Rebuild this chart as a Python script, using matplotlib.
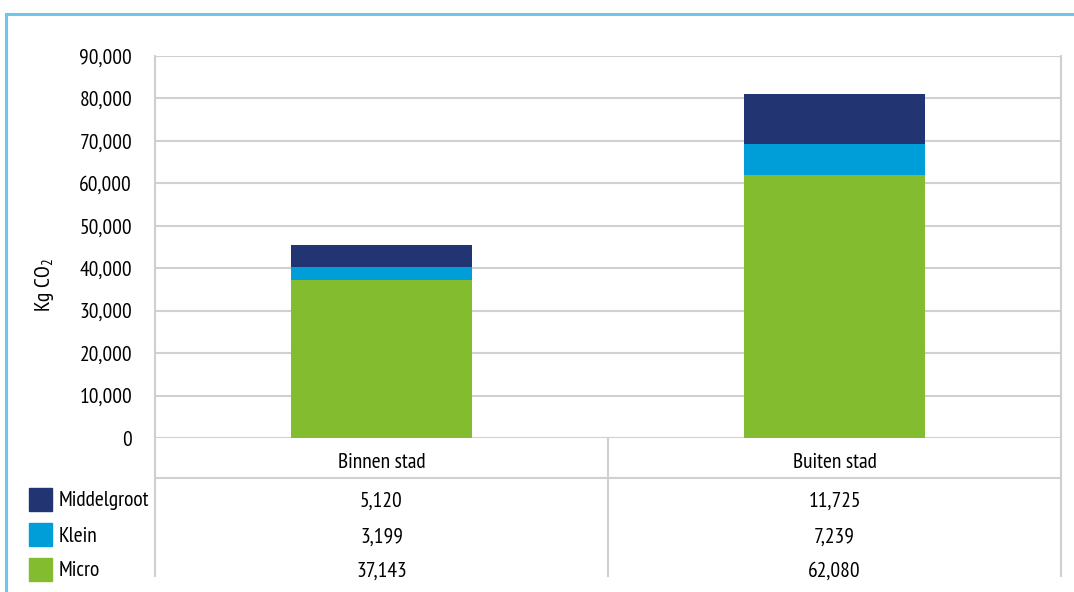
import matplotlib
matplotlib.use("Agg")
import matplotlib.pyplot as plt
from matplotlib.patches import Rectangle
from matplotlib.lines import Line2D

plt.rcParams['font.family'] = ['PT Sans Narrow', 'DejaVu Sans']
plt.rcParams['mathtext.fontset'] = 'custom'
plt.rcParams['mathtext.rm'] = 'PT Sans Narrow'
plt.rcParams['mathtext.it'] = 'PT Sans Narrow'

categories = ["Binnen stad", "Buiten stad"]
series_names = ["Middelgroot", "Klein", "Micro"]
micro = [37143, 62080]
klein = [3199, 7239]
middelgroot = [5120, 11725]
yticks = [0, 10000, 20000, 30000, 40000, 50000, 60000, 70000, 80000, 90000]

colors = {"Middelgroot": "#233473", "Klein": "#009ed8", "Micro": "#84bc2f"}
grid_c = "#d0d0d0"
fs = 15.5

W, H = 1074, 592
fig = plt.figure(figsize=(W / 100, H / 100), dpi=100)

# outer frame (top and left edges only)
fig.add_artist(Line2D([6 / W, 1.0], [1 - 14 / H, 1 - 14 / H], color="#6ec6ea", lw=2.2))
fig.add_artist(Line2D([6 / W, 6 / W], [0, 1 - 14 / H], color="#6ec6ea", lw=2.2))

left, right, top, bottom = 155, 1061, 56, 438
ax = fig.add_axes([left / W, 1 - bottom / H, (right - left) / W, (bottom - top) / H])

x = list(range(len(categories)))
width = 0.4
ax.bar(x, micro, width, color=colors["Micro"], zorder=3)
ax.bar(x, klein, width, bottom=micro, color=colors["Klein"], zorder=3)
base2 = [m + k for m, k in zip(micro, klein)]
ax.bar(x, middelgroot, width, bottom=base2, color=colors["Middelgroot"], zorder=3)

ax.set_xlim(-0.5, 1.5)
ax.set_ylim(0, 90000)
ax.set_yticks(yticks)
ax.set_yticklabels([f"{v:,}" for v in yticks], fontsize=fs)
ax.tick_params(axis="y", length=0, pad=16.5)
ax.set_xticks([])
for s in ["top", "bottom"]:
    ax.spines[s].set_visible(False)
for s in ["left", "right"]:
    ax.spines[s].set_color(grid_c)
    ax.spines[s].set_linewidth(1.5)
ax.yaxis.grid(True, color=grid_c, lw=1.5, zorder=0)
ax.set_axisbelow(True)

fig.text(45 / W, 1 - 285 / H, "Kg CO$_2$", rotation=90, ha="center", va="center",
         fontsize=fs)

# data table under the axes
ph = bottom - top
def ay(py):
    return (bottom - py) / ph

trans = ax.get_xaxis_transform()
tab_bottom = 576
for xv in [-0.5, 0.5, 1.5]:
    ax.add_line(Line2D([xv, xv], [0, ay(tab_bottom)], transform=trans, color=grid_c,
                       lw=1.5, clip_on=False))
ax.add_line(Line2D([-0.5, 1.5], [ay(478), ay(478)], transform=trans, color=grid_c,
                   lw=1.5, clip_on=False))

for i, c in enumerate(categories):
    ax.text(i, ay(462), c, transform=trans, ha="center", va="center", fontsize=fs)

rows = [("Middelgroot", middelgroot, 501), ("Klein", klein, 537), ("Micro", micro, 571)]
box_y = {"Middelgroot": 499, "Klein": 534.5, "Micro": 569.5}
for name, vals, py in rows:
    for i, v in enumerate(vals):
        ax.text(i, ay(py), f"{v:,}", transform=trans, ha="center", va="center", fontsize=fs)
    cy = box_y[name]
    fig.add_artist(Rectangle((29 / W, 1 - (cy + 11.5) / H), 23 / W, 23 / H,
                             color=colors[name], transform=fig.transFigure))
    fig.text(59 / W, 1 - py / H, name, ha="left", va="center", fontsize=fs)

fig.savefig("out.png", dpi=100, facecolor="white")
